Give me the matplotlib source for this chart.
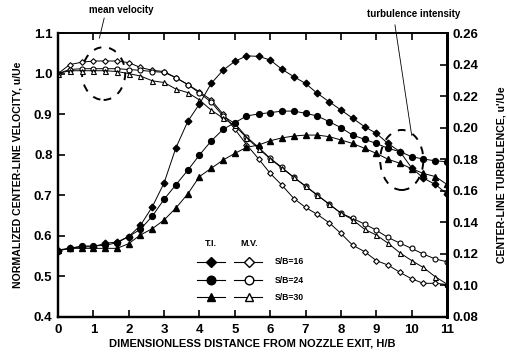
import matplotlib
matplotlib.use("Agg")
import matplotlib.pyplot as plt
from matplotlib.patches import Ellipse
from matplotlib.lines import Line2D

plt.rcParams["font.family"] = ["Liberation Sans", "DejaVu Sans"]
plt.rcParams["font.weight"] = "bold"

# stations along the jet axis, H/B
h_b = [0.0, 0.33, 0.67, 1.0, 1.33, 1.67, 2.0, 2.33, 2.67, 3.0, 3.33, 3.67,
       4.0, 4.33, 4.67, 5.0, 5.33, 5.67, 6.0, 6.33, 6.67, 7.0, 7.33, 7.67,
       8.0, 8.33, 8.67, 9.0, 9.33, 9.67, 10.0, 10.33, 10.67, 11.0]

# mean velocity u/Ue (left axis)
mv_16 = [1.0, 1.022, 1.028, 1.031, 1.031, 1.031, 1.027, 1.015, 1.008, 1.005,
         0.99, 0.973, 0.955, 0.935, 0.90, 0.863, 0.825, 0.79, 0.754, 0.725,
         0.692, 0.67, 0.653, 0.632, 0.606, 0.577, 0.561, 0.539, 0.528, 0.51,
         0.494, 0.483, 0.483, 0.48]
mv_24 = [1.0, 1.01, 1.012, 1.012, 1.012, 1.012, 1.01, 1.008, 1.005, 1.003,
         0.99, 0.973, 0.952, 0.93, 0.895, 0.877, 0.844, 0.818, 0.791, 0.769,
         0.744, 0.723, 0.701, 0.678, 0.656, 0.643, 0.629, 0.614, 0.596, 0.582,
         0.569, 0.555, 0.543, 0.536]
mv_30 = [1.0, 1.007, 1.007, 1.007, 1.007, 1.005, 1.0, 0.994, 0.982, 0.978,
         0.962, 0.953, 0.935, 0.91, 0.89, 0.872, 0.842, 0.815, 0.79, 0.767,
         0.744, 0.722, 0.70, 0.678, 0.656, 0.64, 0.616, 0.602, 0.582, 0.558,
         0.539, 0.522, 0.499, 0.481]

# turbulence intensity u'/Ue (right axis)
ti_16 = [0.122, 0.1235, 0.1245, 0.1245, 0.1267, 0.1275, 0.131, 0.138, 0.150,
         0.165, 0.187, 0.204, 0.215, 0.228, 0.2365, 0.242, 0.2455, 0.2452,
         0.2429, 0.237, 0.2323, 0.228, 0.2218, 0.2164, 0.2112, 0.206, 0.2006,
         0.1964, 0.190, 0.1848, 0.1745, 0.168, 0.164, 0.158]
ti_24 = [0.122, 0.1235, 0.125, 0.125, 0.1255, 0.127, 0.131, 0.1356, 0.144,
         0.1546, 0.1637, 0.173, 0.1827, 0.1915, 0.199, 0.2031, 0.2074, 0.2087,
         0.2095, 0.2105, 0.2105, 0.2091, 0.2074, 0.2038, 0.20, 0.1953, 0.1926,
         0.190, 0.1869, 0.1848, 0.1816, 0.1801, 0.179, 0.1784]
ti_30 = [0.1225, 0.1235, 0.1235, 0.1235, 0.1235, 0.1235, 0.1265, 0.132, 0.136,
         0.1415, 0.149, 0.158, 0.169, 0.1742, 0.1795, 0.1837, 0.1875, 0.189,
         0.1917, 0.1935, 0.1947, 0.1953, 0.1953, 0.1943, 0.1922, 0.19, 0.1869,
         0.1837, 0.18, 0.1774, 0.174, 0.171, 0.169, 0.164]

labels = ["S/B=16", "S/B=24", "S/B=30"]
markers = ["D", "o", "^"]

fig = plt.figure(figsize=(5.07, 3.56), dpi=100)
ax = fig.add_axes([0.1144, 0.1096, 0.7673, 0.7977])
ax2 = ax.twinx()

lw = 0.7
for mv, m in zip([mv_16, mv_24, mv_30], markers):
    ms = 2.9 if m == "D" else 3.6
    ax.plot(h_b, mv, color="black", lw=lw, marker=m, ms=ms,
            mfc="white", mec="black", mew=0.8)
for ti, m in zip([ti_16, ti_24, ti_30], markers):
    ms = 3.4 if m == "D" else 4.2
    ax2.plot(h_b, ti, color="black", lw=lw, marker=m, ms=ms,
             mfc="black", mec="black")

ax.set_xlim(0, 11)
ax.set_ylim(0.4, 1.1)
ax2.set_ylim(0.08, 0.26)
ax.set_xticks(range(0, 12))
ax.set_yticks([0.4, 0.5, 0.6, 0.7, 0.8, 0.9, 1.0, 1.1])
ax.set_yticklabels(["0.4", "0.5", "0.6", "0.7", "0.8", "0.9", "1.0", "1.1"])
ax2.set_yticks([0.08, 0.10, 0.12, 0.14, 0.16, 0.18, 0.20, 0.22, 0.24, 0.26])
ax2.set_yticklabels(["0.08", "0.10", "0.12", "0.14", "0.16", "0.18", "0.20",
                     "0.22", "0.24", "0.26"])

ax.tick_params(axis="x", direction="in", top=True, length=5, width=1.2,
               labelsize=9.5, pad=5)
ax.tick_params(axis="y", direction="in", length=5, width=1.2,
               labelsize=9.5, pad=4)
ax2.tick_params(axis="y", direction="in", length=5, width=1.2,
                labelsize=9.5, pad=4)
for a in (ax, ax2):
    for lab in a.get_xticklabels() + a.get_yticklabels():
        lab.set_fontweight("bold")
    a.spines["left"].set_linewidth(1.6)
    a.spines["bottom"].set_linewidth(1.6)
    a.spines["right"].set_linewidth(2.0)
    a.spines["top"].set_linewidth(1.2)

ax.set_xlabel("DIMENSIONLESS DISTANCE FROM NOZZLE EXIT, H/B",
              fontsize=8, fontweight="bold", labelpad=2)
ax.set_ylabel("NORMALIZED CENTER-LINE VELOCITY, u/Ue",
              fontsize=7.6, fontweight="bold", labelpad=8)
ax2.set_ylabel("CENTER-LINE TURBULENCE, u'/Ue", fontsize=7.6,
               fontweight="bold", rotation=90, labelpad=13)

# dashed rings and callouts
ax.add_patch(Ellipse((1.29, 1.0), 1.22, 0.13, fill=False, ls=(0, (4, 4)),
                     lw=1.4, ec="black", clip_on=False))
ax.add_patch(Ellipse((9.72, 0.787), 1.22, 0.148, fill=False,
                     ls=(0, (4, 4)), lw=1.4, ec="black", clip_on=False))
fig.text(0.24, 0.972, "mean velocity", fontsize=7, fontweight="bold",
         ha="center", va="center")
fig.add_artist(Line2D([0.2055, 0.196], [0.949, 0.893], color="black", lw=0.6))
fig.text(0.815, 0.96, "turbulence intensity", fontsize=7,
         fontweight="bold", ha="center", va="center")
fig.add_artist(Line2D([0.779, 0.812], [0.93, 0.62], color="black", lw=0.6))

# hand-built key: T.I. filled, M.V. open
tr = ax.transAxes
ax.text(0.393, 0.257, "T.I.", transform=tr, fontsize=6.5,
        fontweight="bold", ha="center", va="center")
ax.text(0.491, 0.257, "M.V.", transform=tr, fontsize=6.5,
        fontweight="bold", ha="center", va="center")
for yk, m, lab in zip([0.194, 0.130, 0.070], markers, labels):
    ms = 5.0 if m == "D" else 6.2
    ax.add_line(Line2D([0.357, 0.393, 0.429], [yk, yk, yk], transform=tr,
                       color="black", lw=0.8, marker=m, ms=ms,
                       markevery=[1], mfc="black", mec="black"))
    ax.add_line(Line2D([0.452, 0.491, 0.524], [yk, yk, yk], transform=tr,
                       color="black", lw=0.8, marker=m, ms=ms,
                       markevery=[1], mfc="white", mec="black"))
    ax.text(0.558, yk, lab, transform=tr, fontsize=6.2,
            fontweight="bold", ha="left", va="center")

fig.savefig("out.png", dpi=100)
